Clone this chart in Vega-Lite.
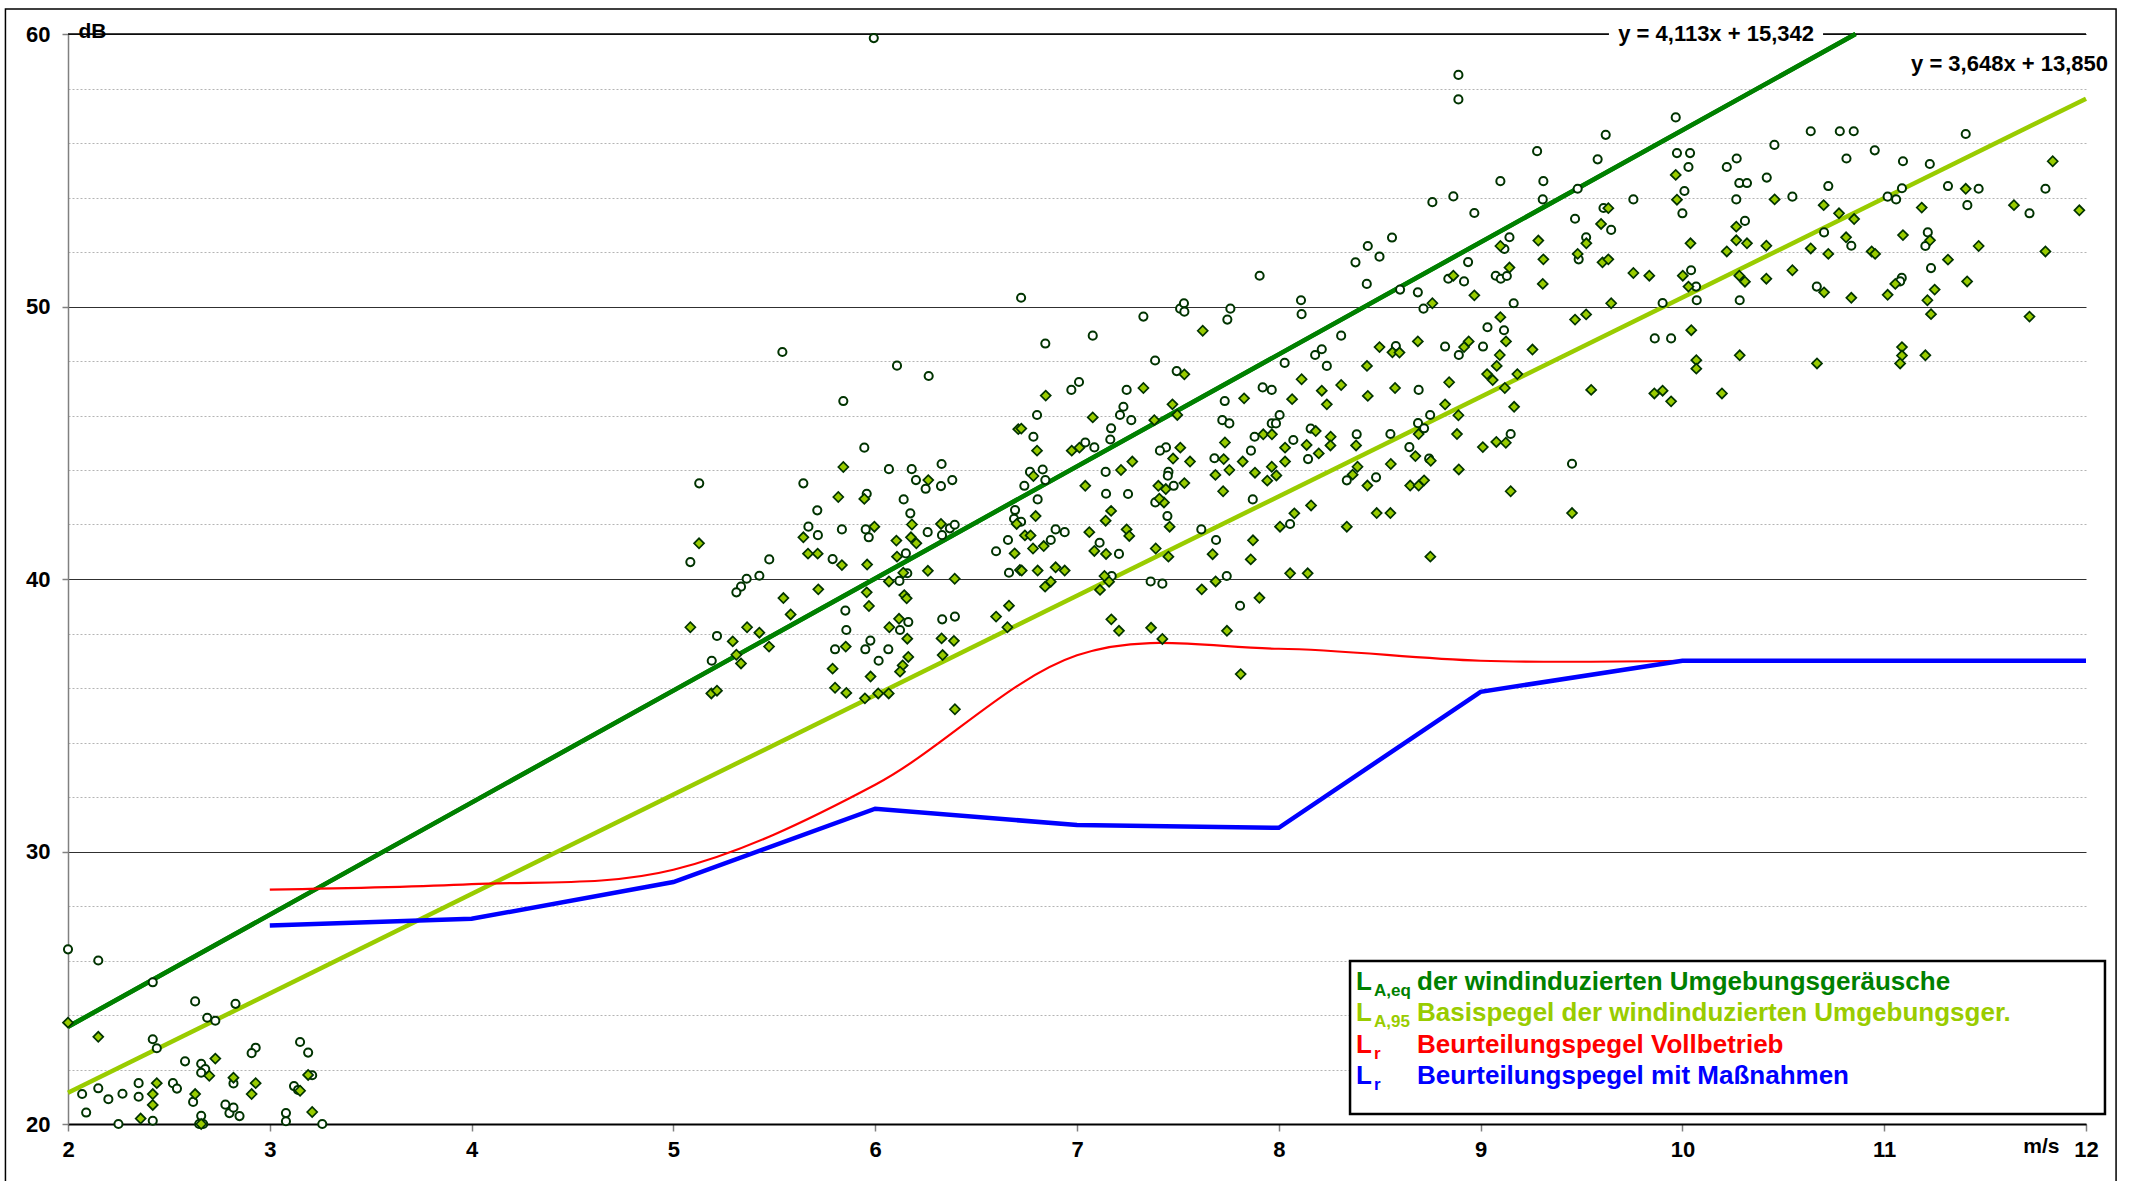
{
"$schema": "https://vega.github.io/schema/vega-lite/v6.json",
"width": 2018, "height": 1090,
"autosize": {"type": "none"},
"padding": {"left": 68, "top": 34, "right": 45, "bottom": 57},
"background": "white",
"config": {"view": {"stroke": null}, "font": "Liberation Sans", "text": {"font": "Liberation Sans", "fontWeight": "bold"}},
"datasets": {
"one": [{}],
"reg1": [{"x": 2, "y": 23.568}, {"x": 10.858, "y": 60.0}],
"reg2": [{"x": 2, "y": 21.146}, {"x": 12, "y": 57.626}],
"red": [{"x":3,"y":28.6},{"x":4,"y":28.8},{"x":5,"y":29.33},{"x":6,"y":32.45},{"x":7,"y":37.2},{"x":8,"y":37.44},{"x":9,"y":37.0},{"x":10,"y":37.0}],
"blue": [{"x":3,"y":27.28},{"x":4,"y":27.53},{"x":5,"y":28.88},{"x":6,"y":31.57},{"x":7,"y":30.97},{"x":8,"y":30.87},{"x":9,"y":35.86},{"x":10,"y":37.0},{"x":11,"y":37.0},{"x":12,"y":37.0}],
"leq": [
{"x":2.00,"y":26.41},{"x":2.15,"y":26.0},{"x":2.42,"y":25.2},{"x":2.63,"y":24.5},{"x":2.83,"y":24.41},{"x":2.69,"y":23.9},{"x":2.73,"y":23.79},{"x":2.42,"y":23.11},{"x":2.44,"y":22.78},{"x":3.15,"y":23.01},{"x":3.19,"y":22.62},{"x":2.93,"y":22.8},{"x":2.91,"y":22.6},{"x":2.58,"y":22.3},{"x":2.66,"y":22.21},{"x":2.68,"y":22.02},{"x":2.66,"y":21.88},{"x":2.07,"y":21.1},{"x":2.15,"y":21.31},{"x":2.20,"y":20.91},{"x":2.27,"y":21.11},{"x":2.35,"y":21.5},{"x":2.35,"y":21.0},{"x":2.52,"y":21.5},{"x":2.54,"y":21.3},{"x":2.62,"y":20.81},{"x":2.82,"y":21.49},{"x":2.78,"y":20.71},{"x":2.80,"y":20.4},{"x":2.82,"y":20.6},{"x":2.85,"y":20.29},{"x":3.12,"y":21.39},{"x":3.14,"y":21.25},{"x":3.21,"y":21.79},{"x":3.08,"y":20.4},{"x":3.08,"y":20.1},{"x":3.26,"y":20.0},{"x":2.09,"y":20.42},{"x":2.25,"y":20.0},{"x":2.42,"y":20.12},{"x":2.66,"y":20.3},{"x":2.65,"y":20.0},{"x":2.67,"y":20.0},
{"x":5.842,"y":46.53},{"x":5.946,"y":44.82},{"x":5.128,"y":43.51},{"x":5.644,"y":43.51},{"x":6.068,"y":44.03},{"x":6.181,"y":44.03},{"x":6.329,"y":44.22},{"x":6.202,"y":43.63},{"x":6.25,"y":43.31},{"x":6.326,"y":43.41},{"x":6.382,"y":43.63},{"x":5.958,"y":43.13},{"x":6.141,"y":42.92},{"x":5.713,"y":42.52},{"x":6.174,"y":42.41},{"x":5.669,"y":41.92},{"x":5.716,"y":41.61},{"x":5.835,"y":41.82},{"x":5.953,"y":41.82},{"x":5.968,"y":41.53},{"x":6.26,"y":41.72},{"x":6.331,"y":41.61},{"x":6.37,"y":41.86},{"x":6.394,"y":41.99},{"x":6.693,"y":42.53},{"x":6.688,"y":42.21},{"x":6.658,"y":41.43},{"x":6.599,"y":41.02},{"x":6.663,"y":40.23},{"x":6.152,"y":40.94},{"x":6.159,"y":40.21},{"x":6.12,"y":39.93},{"x":5.789,"y":40.73},{"x":5.084,"y":40.62},{"x":5.475,"y":40.72},{"x":5.426,"y":40.12},{"x":5.363,"y":40.01},{"x":5.335,"y":39.72},{"x":5.312,"y":39.51},{"x":5.852,"y":38.84},{"x":5.857,"y":38.13},{"x":6.123,"y":38.13},{"x":6.164,"y":38.42},{"x":6.332,"y":38.52},{"x":6.395,"y":38.62},{"x":5.976,"y":37.74},{"x":5.951,"y":37.42},{"x":6.065,"y":37.42},{"x":5.801,"y":37.42},{"x":6.017,"y":37.0},{"x":5.216,"y":37.91},{"x":5.19,"y":37.0},
{"x":5.54,"y":48.33},{"x":6.108,"y":47.83},{"x":6.265,"y":47.45},{"x":5.993,"y":59.85},{"x":6.723,"y":42.1},
{"x":6.723,"y":50.32},{"x":6.843,"y":48.64},{"x":7.078,"y":48.93},{"x":7.329,"y":49.63},{"x":7.511,"y":49.92},{"x":7.53,"y":50.12},{"x":7.532,"y":49.81},{"x":7.76,"y":49.92},{"x":7.745,"y":49.52},{"x":8.11,"y":50.23},{"x":8.113,"y":49.72},{"x":7.387,"y":48.02},{"x":7.494,"y":47.63},{"x":8.029,"y":47.93},{"x":8.18,"y":48.22},{"x":6.972,"y":46.94},{"x":7.01,"y":47.23},{"x":7.246,"y":46.94},{"x":6.802,"y":46.02},{"x":7.23,"y":46.32},{"x":7.213,"y":46.02},{"x":7.269,"y":45.83},{"x":7.92,"y":47.03},{"x":7.965,"y":46.94},{"x":8.004,"y":46.02},{"x":7.965,"y":45.71},{"x":7.986,"y":45.71},{"x":7.72,"y":45.83},{"x":7.755,"y":45.71},{"x":7.732,"y":46.53},{"x":6.784,"y":45.22},{"x":7.169,"y":45.53},{"x":7.165,"y":45.12},{"x":7.041,"y":45.01},{"x":7.086,"y":44.83},{"x":7.441,"y":44.83},{"x":7.411,"y":44.71},{"x":7.88,"y":45.22},{"x":8.158,"y":45.52},{"x":8.072,"y":45.1},{"x":7.862,"y":44.71},{"x":7.681,"y":44.43},{"x":8.145,"y":44.4},{"x":6.767,"y":43.93},{"x":6.83,"y":44.02},{"x":6.739,"y":43.42},{"x":6.843,"y":43.63},{"x":7.142,"y":43.93},{"x":7.453,"y":43.93},{"x":7.45,"y":43.79},{"x":7.479,"y":43.42},{"x":7.144,"y":43.13},{"x":7.253,"y":43.12},{"x":6.805,"y":42.92},{"x":7.388,"y":42.81},{"x":7.871,"y":42.92},{"x":7.448,"y":42.31},{"x":6.894,"y":41.82},{"x":6.939,"y":41.72},{"x":6.87,"y":41.43},{"x":7.616,"y":41.82},{"x":7.689,"y":41.43},{"x":8.056,"y":42.02},{"x":7.112,"y":41.33},{"x":7.208,"y":40.92},{"x":7.742,"y":40.11},{"x":7.172,"y":40.11},{"x":7.365,"y":39.91},{"x":7.423,"y":39.83},{"x":7.808,"y":39.02},{"x":7.905,"y":51.13},
{"x":9.098,"y":54.6},{"x":9.311,"y":54.6},{"x":8.865,"y":54.04},{"x":8.761,"y":53.83},{"x":8.969,"y":53.43},{"x":9.308,"y":53.93},{"x":9.481,"y":54.32},{"x":9.757,"y":53.93},{"x":9.609,"y":53.615},{"x":9.468,"y":53.22},{"x":9.647,"y":52.81},{"x":9.523,"y":52.54},{"x":9.486,"y":51.73},{"x":8.441,"y":52.22},{"x":8.38,"y":51.62},{"x":8.499,"y":51.83},{"x":8.561,"y":52.53},{"x":8.436,"y":50.83},{"x":8.601,"y":50.62},{"x":8.689,"y":50.52},{"x":8.717,"y":49.92},{"x":8.938,"y":51.63},{"x":8.84,"y":51.02},{"x":8.918,"y":50.92},{"x":9.075,"y":51.13},{"x":9.1,"y":51.02},{"x":9.13,"y":51.12},{"x":9.118,"y":52.11},{"x":9.143,"y":52.54},{"x":9.164,"y":50.12},{"x":8.309,"y":48.93},{"x":8.213,"y":48.43},{"x":8.238,"y":47.82},{"x":8.58,"y":48.55},{"x":8.824,"y":48.53},{"x":8.892,"y":48.22},{"x":9.012,"y":48.53},{"x":9.034,"y":49.24},{"x":9.116,"y":49.13},{"x":8.693,"y":46.94},{"x":8.69,"y":45.72},{"x":8.72,"y":45.53},{"x":8.75,"y":46.02},{"x":8.386,"y":45.31},{"x":8.553,"y":45.32},{"x":9.149,"y":45.32},{"x":8.647,"y":44.84},{"x":8.745,"y":44.42},{"x":8.482,"y":43.73},{"x":8.337,"y":43.62},{"x":9.453,"y":44.23},
{"x":8.89,"y":58.5},{"x":8.89,"y":57.6},{"x":9.62,"y":56.3},{"x":9.28,"y":55.7},{"x":9.58,"y":55.4},
{"x":9.967,"y":56.94},{"x":9.973,"y":55.63},{"x":10.038,"y":55.63},{"x":10.03,"y":55.12},{"x":10.01,"y":54.24},{"x":10.0,"y":53.42},{"x":10.22,"y":55.12},{"x":10.269,"y":55.43},{"x":10.282,"y":54.53},{"x":10.32,"y":54.53},{"x":10.267,"y":53.93},{"x":10.31,"y":53.14},{"x":10.418,"y":54.73},{"x":10.456,"y":55.93},{"x":10.545,"y":54.03},{"x":10.636,"y":56.43},{"x":10.78,"y":56.43},{"x":10.849,"y":56.43},{"x":10.813,"y":55.43},{"x":10.953,"y":55.73},{"x":10.723,"y":54.42},{"x":11.093,"y":55.33},{"x":11.226,"y":55.23},{"x":11.088,"y":54.34},{"x":11.017,"y":54.03},{"x":11.059,"y":53.93},{"x":11.316,"y":54.42},{"x":11.404,"y":56.33},{"x":11.468,"y":54.32},{"x":11.412,"y":53.72},{"x":11.72,"y":53.42},{"x":11.799,"y":54.32},{"x":10.702,"y":52.72},{"x":10.837,"y":52.23},{"x":11.216,"y":52.72},{"x":11.204,"y":52.22},{"x":11.232,"y":51.41},{"x":11.087,"y":51.05},{"x":11.079,"y":50.92},{"x":10.666,"y":50.73},{"x":10.043,"y":51.33},{"x":10.068,"y":50.73},{"x":10.071,"y":50.23},{"x":10.284,"y":50.23},{"x":9.902,"y":50.13},{"x":9.863,"y":48.83},{"x":9.944,"y":48.83}
],
"l95": [
{"x":2.0,"y":23.72},{"x":2.15,"y":23.2},{"x":2.73,"y":22.4},{"x":2.70,"y":21.77},{"x":2.82,"y":21.7},{"x":2.93,"y":21.5},{"x":2.91,"y":21.1},{"x":2.44,"y":21.5},{"x":2.42,"y":21.1},{"x":2.42,"y":20.7},{"x":2.63,"y":21.1},{"x":2.36,"y":20.2},{"x":2.66,"y":20.0},{"x":3.15,"y":21.22},{"x":3.19,"y":21.8},{"x":3.21,"y":20.44},
{"x":5.842,"y":44.11},{"x":5.817,"y":43.01},{"x":5.946,"y":42.94},{"x":5.996,"y":41.92},{"x":6.263,"y":43.63},{"x":5.127,"y":41.31},{"x":5.644,"y":41.53},{"x":5.667,"y":40.93},{"x":5.715,"y":40.93},{"x":5.835,"y":40.51},{"x":5.96,"y":40.53},{"x":6.105,"y":41.41},{"x":6.177,"y":41.53},{"x":6.204,"y":41.31},{"x":6.182,"y":42.0},{"x":6.326,"y":42.02},{"x":6.108,"y":40.82},{"x":6.139,"y":40.23},{"x":6.261,"y":40.3},{"x":6.394,"y":40.01},{"x":6.701,"y":42.02},{"x":6.691,"y":40.94},{"x":6.717,"y":40.33},{"x":6.068,"y":39.91},{"x":5.958,"y":39.51},{"x":6.144,"y":39.41},{"x":6.156,"y":39.29},{"x":5.969,"y":39.01},{"x":5.718,"y":39.62},{"x":5.545,"y":39.3},{"x":5.581,"y":38.7},{"x":5.084,"y":38.23},{"x":5.365,"y":38.23},{"x":5.426,"y":38.03},{"x":5.294,"y":37.71},{"x":5.474,"y":37.52},{"x":5.312,"y":37.22},{"x":5.335,"y":36.9},{"x":5.188,"y":35.8},{"x":5.216,"y":35.9},{"x":5.854,"y":37.52},{"x":6.118,"y":38.54},{"x":6.07,"y":38.23},{"x":6.159,"y":37.81},{"x":6.329,"y":37.82},{"x":6.39,"y":37.73},{"x":6.334,"y":37.21},{"x":6.164,"y":37.14},{"x":6.136,"y":36.83},{"x":6.123,"y":36.6},{"x":5.789,"y":36.71},{"x":5.977,"y":36.42},{"x":5.801,"y":36.01},{"x":5.857,"y":35.82},{"x":5.949,"y":35.62},{"x":6.015,"y":35.8},{"x":6.067,"y":35.8},{"x":6.395,"y":35.22},{"x":6.599,"y":38.62},{"x":6.663,"y":39.02},{"x":6.655,"y":38.23},{"x":6.709,"y":45.5},
{"x":7.623,"y":49.11},{"x":6.845,"y":46.73},{"x":7.078,"y":45.93},{"x":7.329,"y":47.01},{"x":7.532,"y":47.51},{"x":7.473,"y":46.41},{"x":7.497,"y":46.02},{"x":7.383,"y":45.83},{"x":7.828,"y":46.63},{"x":8.066,"y":46.6},{"x":8.113,"y":47.33},{"x":6.724,"y":45.52},{"x":6.802,"y":44.71},{"x":6.974,"y":44.71},{"x":7.012,"y":44.82},{"x":7.512,"y":44.82},{"x":7.476,"y":44.42},{"x":7.56,"y":44.31},{"x":7.733,"y":45.01},{"x":7.727,"y":44.4},{"x":7.821,"y":44.31},{"x":7.923,"y":45.31},{"x":7.966,"y":45.31},{"x":8.031,"y":44.82},{"x":8.138,"y":44.92},{"x":8.031,"y":44.31},{"x":7.965,"y":44.12},{"x":7.988,"y":43.8},{"x":7.943,"y":43.61},{"x":7.882,"y":43.9},{"x":7.755,"y":44.0},{"x":7.686,"y":43.82},{"x":7.724,"y":43.22},{"x":7.532,"y":43.52},{"x":7.274,"y":44.31},{"x":7.218,"y":44.0},{"x":7.041,"y":43.42},{"x":6.784,"y":43.78},{"x":6.795,"y":42.31},{"x":7.169,"y":42.5},{"x":7.142,"y":42.14},{"x":7.403,"y":43.42},{"x":7.44,"y":43.3},{"x":7.431,"y":42.81},{"x":7.408,"y":42.95},{"x":7.246,"y":41.82},{"x":7.259,"y":41.58},{"x":7.061,"y":41.72},{"x":7.459,"y":41.92},{"x":6.742,"y":41.6},{"x":6.77,"y":41.6},{"x":6.782,"y":41.12},{"x":6.835,"y":41.21},{"x":7.086,"y":41.03},{"x":7.144,"y":40.92},{"x":7.39,"y":41.12},{"x":7.453,"y":40.82},{"x":7.672,"y":40.91},{"x":7.872,"y":41.42},{"x":8.006,"y":41.92},{"x":8.077,"y":42.41},{"x":8.16,"y":42.7},{"x":6.726,"y":40.31},{"x":6.805,"y":40.31},{"x":6.894,"y":40.43},{"x":6.939,"y":40.31},{"x":6.87,"y":39.9},{"x":6.842,"y":39.72},{"x":7.136,"y":40.11},{"x":7.114,"y":39.6},{"x":7.159,"y":39.9},{"x":7.861,"y":40.72},{"x":8.056,"y":40.21},{"x":8.143,"y":40.21},{"x":7.687,"y":39.91},{"x":7.618,"y":39.62},{"x":7.904,"y":39.31},{"x":7.17,"y":38.52},{"x":7.208,"y":38.1},{"x":7.367,"y":38.21},{"x":7.423,"y":37.8},{"x":7.743,"y":38.1},{"x":7.811,"y":36.51},
{"x":9.633,"y":53.61},{"x":9.597,"y":53.03},{"x":9.286,"y":52.42},{"x":9.098,"y":52.22},{"x":9.524,"y":52.32},{"x":9.481,"y":51.93},{"x":9.311,"y":51.73},{"x":9.604,"y":51.62},{"x":9.633,"y":51.73},{"x":9.757,"y":51.23},{"x":9.143,"y":51.43},{"x":8.865,"y":51.13},{"x":8.969,"y":50.41},{"x":8.761,"y":50.12},{"x":9.308,"y":50.83},{"x":9.647,"y":50.12},{"x":9.468,"y":49.52},{"x":9.523,"y":49.71},{"x":9.098,"y":49.61},{"x":8.689,"y":48.72},{"x":8.499,"y":48.51},{"x":8.563,"y":48.32},{"x":8.598,"y":48.31},{"x":8.941,"y":48.72},{"x":8.918,"y":48.51},{"x":9.126,"y":48.72},{"x":9.095,"y":48.22},{"x":9.257,"y":48.42},{"x":9.08,"y":47.82},{"x":9.032,"y":47.52},{"x":9.06,"y":47.3},{"x":9.182,"y":47.52},{"x":9.12,"y":47.01},{"x":8.844,"y":47.22},{"x":8.437,"y":47.82},{"x":8.309,"y":47.12},{"x":8.213,"y":46.91},{"x":8.238,"y":46.41},{"x":8.576,"y":47.01},{"x":8.441,"y":46.72},{"x":9.548,"y":46.94},{"x":8.824,"y":46.41},{"x":8.89,"y":46.01},{"x":9.166,"y":46.32},{"x":8.183,"y":45.43},{"x":8.257,"y":45.22},{"x":8.256,"y":44.9},{"x":8.198,"y":44.61},{"x":8.383,"y":44.9},{"x":8.693,"y":45.32},{"x":8.883,"y":45.32},{"x":9.011,"y":44.84},{"x":9.078,"y":45.03},{"x":9.125,"y":45.0},{"x":8.677,"y":44.51},{"x":8.753,"y":44.34},{"x":8.39,"y":44.12},{"x":8.366,"y":43.83},{"x":8.555,"y":44.22},{"x":8.892,"y":44.02},{"x":8.439,"y":43.43},{"x":8.651,"y":43.43},{"x":8.693,"y":43.43},{"x":8.72,"y":43.62},{"x":9.149,"y":43.22},{"x":8.485,"y":42.42},{"x":8.553,"y":42.42},{"x":9.453,"y":42.42},{"x":8.337,"y":41.92},{"x":8.751,"y":40.82},
{"x":9.967,"y":54.83},{"x":9.973,"y":53.92},{"x":10.457,"y":53.93},{"x":10.7,"y":53.72},{"x":10.776,"y":53.42},{"x":10.851,"y":53.21},{"x":11.186,"y":53.63},{"x":11.404,"y":54.32},{"x":11.643,"y":53.72},{"x":11.835,"y":55.33},{"x":11.967,"y":53.53},{"x":10.267,"y":52.93},{"x":10.267,"y":52.43},{"x":10.32,"y":52.32},{"x":10.04,"y":52.32},{"x":10.22,"y":52.02},{"x":10.416,"y":52.23},{"x":10.636,"y":52.13},{"x":10.723,"y":51.93},{"x":10.811,"y":52.54},{"x":10.938,"y":52.02},{"x":10.955,"y":51.93},{"x":11.093,"y":52.62},{"x":11.227,"y":52.43},{"x":11.316,"y":51.72},{"x":11.468,"y":52.22},{"x":11.799,"y":52.02},{"x":9.836,"y":51.13},{"x":10.002,"y":51.13},{"x":10.03,"y":50.73},{"x":10.282,"y":51.13},{"x":10.31,"y":50.91},{"x":10.416,"y":51.02},{"x":10.545,"y":51.33},{"x":10.702,"y":50.52},{"x":10.837,"y":50.32},{"x":11.017,"y":50.43},{"x":11.055,"y":50.83},{"x":11.25,"y":50.62},{"x":11.214,"y":50.23},{"x":11.232,"y":49.72},{"x":11.411,"y":50.92},{"x":11.72,"y":49.63},{"x":10.044,"y":49.13},{"x":10.069,"y":48.03},{"x":10.069,"y":47.72},{"x":9.861,"y":46.81},{"x":9.902,"y":46.91},{"x":9.944,"y":46.52},{"x":10.196,"y":46.81},{"x":10.284,"y":48.21},{"x":10.667,"y":47.91},{"x":11.088,"y":48.51},{"x":11.088,"y":48.2},{"x":11.079,"y":47.91},{"x":11.204,"y":48.21}
],
"leg": [
{"s":"leq","L":"L","sub":"A,eq","t":"der windinduzierten Umgebungsgeräusche","y":24.92},
{"s":"l95","L":"L","sub":"A,95","t":"Basispegel der windinduzierten Umgebungsger.","y":23.78},
{"s":"lr","L":"L","sub":"r","t":"Beurteilungspegel Vollbetrieb","y":22.61},
{"s":"lrm","L":"L","sub":"r","t":"Beurteilungspegel mit Maßnahmen","y":21.47}
]
},
"layer": [
{"data": {"name": "one"}, "mark": {"type": "rect", "fill": null, "stroke": "#000000", "strokeWidth": 1.5},
 "encoding": {"x": {"datum": 1.69, "type": "quantitative"}, "x2": {"datum": 12.149}, "y": {"datum": 60.92, "type": "quantitative"}, "y2": {"datum": 17.0}}},
{"data": {"name": "reg1"},
 "mark": {"type": "line", "color": "#008000", "strokeWidth": 4.5},
 "encoding": {
  "x": {"field": "x", "type": "quantitative", "scale": {"domain": [2, 12], "nice": false, "zero": false},
   "axis": {"title": "m/s", "titleX": 1991, "titleY": 22, "titleAlign": "right", "titleBaseline": "middle", "titleFontSize": 21, "titleFontWeight": "bold", "titleColor": "#000000", "titleFont": "Liberation Sans",
    "values": [2,3,4,5,6,7,8,9,10,11,12], "format": "d", "labelFont": "Liberation Sans", "labelFontSize": 22, "labelFontWeight": "bold", "labelColor": "#000000", "labelPadding": 8, "labelFlush": false, "labelOverlap": false,
    "tickSize": 7, "tickColor": "#808080", "tickWidth": 1.5, "domainColor": "#000000", "domainWidth": 2, "grid": false}},
  "y": {"field": "y", "type": "quantitative", "scale": {"domain": [20, 60], "nice": false, "zero": false},
   "axis": {"title": "dB", "titleAngle": 0, "titleX": 10, "titleY": -3, "titleAlign": "left", "titleBaseline": "middle", "titleFontSize": 21, "titleFontWeight": "bold", "titleColor": "#000000", "titleFont": "Liberation Sans",
    "values": [20,21,22,23,24,25,26,27,28,29,30,31,32,33,34,35,36,37,38,39,40,41,42,43,44,45,46,47,48,49,50,51,52,53,54,55,56,57,58,59,60],
    "labelExpr": "datum.value % 5 === 0 ? datum.label : ''", "labelFont": "Liberation Sans", "labelFontSize": 22, "labelFontWeight": "bold", "labelColor": "#000000", "labelPadding": 12, "labelOverlap": false,
    "tickSize": 6, "tickColor": "#808080", "tickWidth": 1.5, "tickOpacity": {"condition": {"test": "datum.value % 5 === 0", "value": 1}, "value": 0},
    "domainColor": "#808080", "domainWidth": 1.5,
    "grid": true, "gridColor": {"condition": {"test": "datum.value % 5 === 0", "value": "#303030"}, "value": "#b4b4b4"},
    "gridDash": {"condition": {"test": "datum.value % 5 === 0", "value": []}, "value": [2, 2]}, "gridWidth": 1}}}},
{"data": {"name": "one"}, "mark": {"type": "rule", "color": "#000000", "strokeWidth": 1.5},
 "encoding": {"y": {"datum": 60, "type": "quantitative"}}},
{"data": {"name": "reg1"}, "mark": {"type": "line", "color": "#008000", "strokeWidth": 4.5},
 "encoding": {"x": {"field": "x", "type": "quantitative"}, "y": {"field": "y", "type": "quantitative"}}},
{"data": {"name": "reg2"}, "mark": {"type": "line", "color": "#99CC00", "strokeWidth": 4.5},
 "encoding": {"x": {"field": "x", "type": "quantitative"}, "y": {"field": "y", "type": "quantitative"}}},
{"data": {"name": "red"}, "mark": {"type": "line", "color": "#FF0000", "strokeWidth": 2.2, "interpolate": "cardinal"},
 "encoding": {"x": {"field": "x", "type": "quantitative"}, "y": {"field": "y", "type": "quantitative"}}},
{"data": {"name": "blue"}, "mark": {"type": "line", "color": "#0000FF", "strokeWidth": 4.5},
 "encoding": {"x": {"field": "x", "type": "quantitative"}, "y": {"field": "y", "type": "quantitative"}}},
{"data": {"name": "leq"}, "mark": {"type": "point", "shape": "circle", "filled": true, "fill": "#FFFFFF", "stroke": "#003300", "strokeWidth": 2, "size": 66, "opacity": 1},
 "encoding": {"x": {"field": "x", "type": "quantitative"}, "y": {"field": "y", "type": "quantitative"}}},
{"data": {"name": "l95"}, "mark": {"type": "point", "shape": "diamond", "filled": true, "fill": "#99CC00", "stroke": "#003300", "strokeWidth": 1.7, "size": 100, "opacity": 1},
 "encoding": {"x": {"field": "x", "type": "quantitative"}, "y": {"field": "y", "type": "quantitative"}}},
{"data": {"name": "one"}, "mark": {"type": "rect", "fill": "#FFFFFF"},
 "encoding": {"x": {"datum": 9.636, "type": "quantitative"}, "x2": {"datum": 10.697}, "y": {"datum": 60.45, "type": "quantitative"}, "y2": {"datum": 59.55}}},
{"data": {"name": "one"}, "mark": {"type": "text", "text": "y = 4,113x + 15,342", "fontSize": 22, "fontWeight": "bold", "align": "center", "baseline": "middle", "color": "#000000"},
 "encoding": {"x": {"datum": 10.167, "type": "quantitative"}, "y": {"datum": 60, "type": "quantitative"}}},
{"data": {"name": "one"}, "mark": {"type": "rect", "fill": "#FFFFFF"},
 "encoding": {"x": {"datum": 11.08, "type": "quantitative"}, "x2": {"datum": 12.12}, "y": {"datum": 59.35, "type": "quantitative"}, "y2": {"datum": 58.45}}},
{"data": {"name": "one"}, "mark": {"type": "text", "text": "y = 3,648x + 13,850", "fontSize": 22, "fontWeight": "bold", "align": "right", "baseline": "middle", "color": "#000000"},
 "encoding": {"x": {"datum": 12.109, "type": "quantitative"}, "y": {"datum": 58.9, "type": "quantitative"}}},
{"data": {"name": "one"}, "mark": {"type": "rect", "fill": "#FFFFFF", "stroke": "#000000", "strokeWidth": 2.5},
 "encoding": {"x": {"datum": 8.353, "type": "quantitative"}, "x2": {"datum": 12.094}, "y": {"datum": 25.98, "type": "quantitative"}, "y2": {"datum": 20.37}}},
{"data": {"name": "leg"}, "mark": {"type": "text", "fontSize": 26, "fontWeight": "bold", "align": "left", "baseline": "alphabetic"},
 "encoding": {"x": {"datum": 8.383, "type": "quantitative"}, "y": {"field": "y", "type": "quantitative"}, "text": {"field": "L"},
  "color": {"field": "s", "type": "nominal", "scale": {"domain": ["leq", "l95", "lr", "lrm"], "range": ["#008000", "#99CC00", "#FF0000", "#0000FF"]}, "legend": null}}},
{"data": {"name": "leg"}, "mark": {"type": "text", "fontSize": 17, "fontWeight": "bold", "align": "left", "baseline": "alphabetic", "dy": 6},
 "encoding": {"x": {"datum": 8.472, "type": "quantitative"}, "y": {"field": "y", "type": "quantitative"}, "text": {"field": "sub"},
  "color": {"field": "s", "type": "nominal", "legend": null}}},
{"data": {"name": "leg"}, "mark": {"type": "text", "fontSize": 26, "fontWeight": "bold", "align": "left", "baseline": "alphabetic"},
 "encoding": {"x": {"datum": 8.685, "type": "quantitative"}, "y": {"field": "y", "type": "quantitative"}, "text": {"field": "t"},
  "color": {"field": "s", "type": "nominal", "legend": null}}}
]
}
